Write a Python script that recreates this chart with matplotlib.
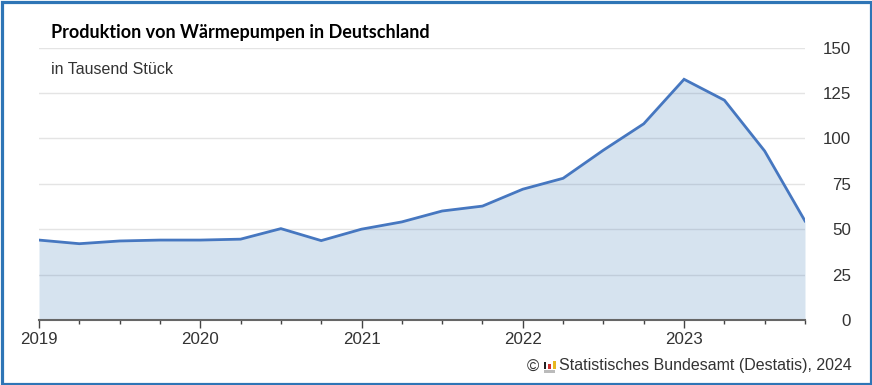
import matplotlib
matplotlib.use("Agg")
import matplotlib.pyplot as plt
from matplotlib.patches import Rectangle

plt.rcParams['font.family'] = ['Liberation Sans', 'DejaVu Sans']

W, H = 872, 385
quarters = list(range(20))
values = [44, 42, 43.5, 44, 44, 44.5, 50.3, 43.7, 50, 54, 60, 62.7,
          72, 78, 93.5, 108, 132.5, 121, 93, 54.5]
year_labels = ["2019", "2020", "2021", "2022", "2023"]
year_ticks = [0, 4, 8, 12, 16]
y_ticks = [0, 25, 50, 75, 100, 125, 150]
title = "Produktion von Wärmepumpen in Deutschland"
subtitle = "in Tausend Stück"
credit = "Statistisches Bundesamt (Destatis), 2024"

fig = plt.figure(figsize=(W / 100, H / 100), dpi=100, facecolor="white")
L, R, T, B = 39, 805, 47.5, 320
ax = fig.add_axes([L / W, 1 - B / H, (R - L) / W, (B - T) / H])
ax.set_xlim(0, 19)
ax.set_ylim(0, 150)
ax.set_facecolor("white")

ax.grid(axis="y", color="#e4e4e4", lw=1, zorder=1)
ax.set_axisbelow(True)
ax.fill_between(quarters, values, 0, color="#3f7cb8", alpha=0.21, lw=0, zorder=2)
ax.plot(quarters, values, color="#4677c0", lw=2.0, solid_joinstyle="miter", zorder=3)

for s in ["top", "left", "right"]:
    ax.spines[s].set_visible(False)
ax.spines["bottom"].set_color("#666666")
ax.spines["bottom"].set_linewidth(1.5)

ax.yaxis.tick_right()
ax.set_yticks(y_ticks)
ax.tick_params(axis="y", length=0, pad=33, labelsize=12.2, labelcolor="#333333")
for lab in ax.get_yticklabels():
    lab.set_ha("right")
ax.set_xticks(year_ticks, year_labels)
ax.set_xticks(quarters, minor=True)
ax.tick_params(axis="x", which="major", length=6, width=1, color="#444444",
               pad=2.5, labelsize=12.2, labelcolor="#333333")
ax.tick_params(axis="x", which="minor", length=3, width=1, color="#444444")

def px(x, y):
    return x / W, 1 - y / H

fig.text(*px(50.5, 32.5), title, family="Lato", fontweight="bold", fontsize=13.0,
         color="black", va="center", ha="left")
fig.text(*px(51, 69), subtitle, fontsize=11.5, color="#333333", va="center", ha="left")
fig.text(*px(852, 365.5), credit, fontsize=11.5, color="#333333", va="center", ha="right")
fig.text(*px(533, 367.5), "©", fontsize=12, color="#333333", va="center", ha="center")

# small Destatis logo
logo = [(543.5, 362, 2.5, 7, "#222222"), (548, 363.5, 3, 5.5, "#d03030"),
        (553, 361, 2.5, 8, "#e8b820"), (543.5, 370, 11.5, 2.5, "#bbbbbb")]
for x, y, w, h, c in logo:
    fig.add_artist(Rectangle(px(x, y + h), w / W, h / H, transform=fig.transFigure,
                             color=c, lw=0))

# outer border
fig.add_artist(Rectangle((1.5 / W, 1.5 / H), (W - 3) / W, (H - 3) / H,
                         transform=fig.transFigure, fill=False,
                         edgecolor="#2e75b6", lw=2.3))
fig.savefig("out.png", dpi=100)
